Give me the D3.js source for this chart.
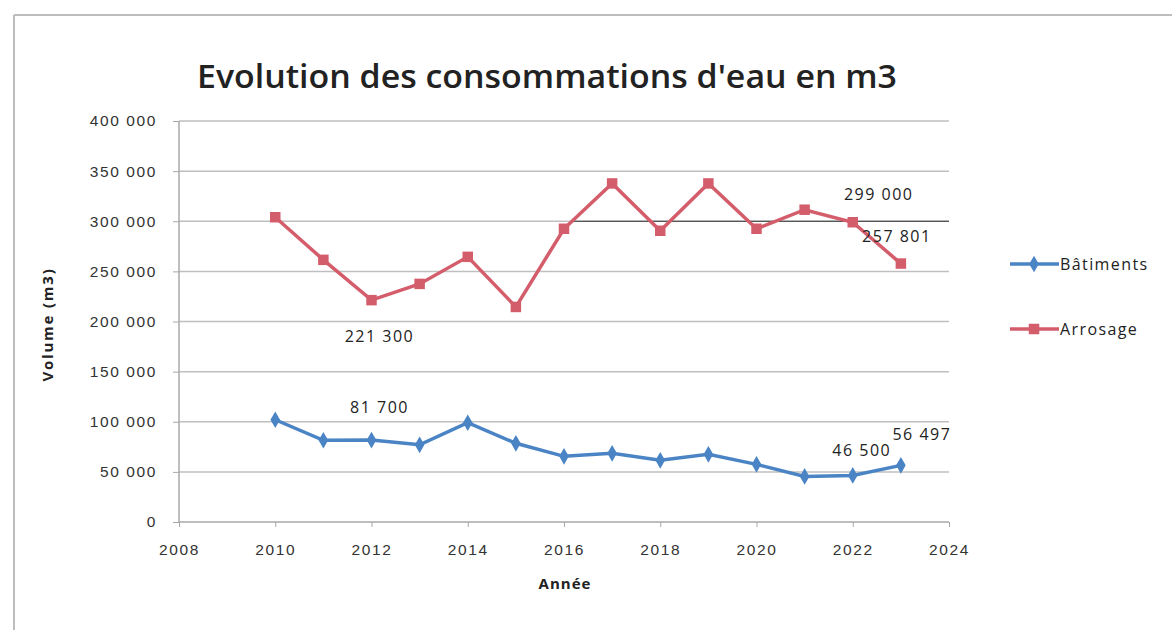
<!DOCTYPE html>
<html><head><meta charset="utf-8">
<script src="https://cdn.jsdelivr.net/npm/d3@7"></script>
<style>
html,body{margin:0;padding:0;background:#fff;}
svg{display:block;font-family:"Open Sans",sans-serif;}
</style></head>
<body>
<svg id="chart" width="1175" height="630"></svg>
<script>
const years = [2010,2011,2012,2013,2014,2015,2016,2017,2018,2019,2020,2021,2022,2023];
const batiments = [102000,81500,81700,77000,99000,78500,65500,68500,61500,67500,57500,45500,46500,56497];
const arrosage = [304000,261500,221300,237500,264500,214500,292500,337700,290500,337700,292500,311500,299000,257801];
const yTicks = [0,50000,100000,150000,200000,250000,300000,350000,400000];
const xTicks = [2008,2010,2012,2014,2016,2018,2020,2022,2024];
const seriesNames = ["Bâtiments","Arrosage"];
// data labels: [series, year index, text]
const dataLabels = [
  ["Arrosage", 2, "221 300"],
  ["Arrosage", 12, "299 000"],
  ["Arrosage", 13, "257 801"],
  ["Bâtiments", 2, "81 700"],
  ["Bâtiments", 12, "46 500"],
  ["Bâtiments", 13, "56 497"]
];
const refLine = {value:300000, from:2016.2, to:2024};

const svg = d3.select("#chart");
const blue = "#4a84c4", red = "#d45d6b";
const x = d3.scaleLinear().domain([2008,2024]).range([179,949]);
const y = d3.scaleLinear().domain([0,400000]).range([522,121]);
const fmt = v => d3.format(",")(v).replace(/,/g," ");

// frame
svg.append("line").attr("x1",14).attr("x2",1172).attr("y1",15).attr("y2",15).attr("stroke","#bdbdbd").attr("stroke-width",2);
svg.append("line").attr("x1",14).attr("x2",14).attr("y1",15).attr("y2",630).attr("stroke","#bdbdbd").attr("stroke-width",2);

// title
svg.append("text").attr("x",547).attr("y",88).attr("text-anchor","middle")
  .attr("font-size",32).attr("font-weight",600).attr("fill","#222")
  .attr("textLength",700).attr("lengthAdjust","spacingAndGlyphs")
  .text("Evolution des consommations d'eau en m3");

// grid
svg.append("g").selectAll("line").data(yTicks.filter(d=>d>0)).join("line")
  .attr("x1",x(2008)).attr("x2",x(2024)).attr("y1",d=>y(d)).attr("y2",d=>y(d))
  .attr("stroke","#bfbfbf").attr("stroke-width",1.5);

// axes
const yAxis = d3.axisLeft(y).tickValues(yTicks).tickFormat(fmt).tickSize(6).tickPadding(16);
const gy = svg.append("g").attr("transform",`translate(${x(2008)},0)`).call(yAxis);
gy.selectAll("text").attr("font-size",15.5).attr("letter-spacing",1.6).attr("fill","#333");
gy.selectAll("line,path").attr("stroke","#a8a8a8");
gy.select(".domain").attr("d",`M0,${y(0)}V${y(400000)}`).attr("stroke-width",1.5);

const xAxis = d3.axisBottom(x).tickValues(xTicks).tickFormat(d3.format("d")).tickSize(5).tickPadding(17);
const gx = svg.append("g").attr("transform",`translate(0,${y(0)})`).call(xAxis);
gx.selectAll("text").attr("font-size",15.5).attr("letter-spacing",1.6).attr("fill","#333");
gx.selectAll("line,path").attr("stroke","#a8a8a8");
gx.select(".domain").attr("d",`M${x(2008)},0H${x(2024)}`).attr("stroke-width",1.5);

// axis titles
svg.append("text").attr("transform",`translate(53,${y(200000)+3}) rotate(-90)`).attr("text-anchor","middle")
  .attr("font-size",15).attr("font-weight",700).attr("letter-spacing",1.8).attr("fill","#222").text("Volume (m3)");
svg.append("text").attr("x",565).attr("y",589).attr("text-anchor","middle")
  .attr("font-size",15).attr("font-weight",700).attr("letter-spacing",1).attr("fill","#222").text("Année");

// reference line
svg.append("line").attr("x1",x(refLine.from)).attr("x2",x(refLine.to))
  .attr("y1",y(refLine.value)).attr("y2",y(refLine.value)).attr("stroke","#333").attr("stroke-width",1.2);

const line = d3.line().x((d,i)=>x(years[i])).y(d=>y(d));
const series = [
  {name:"Bâtiments", vals:batiments, color:blue, sym:d3.symbolDiamond},
  {name:"Arrosage", vals:arrosage, color:red, sym:d3.symbolSquare}
];
series.forEach(s=>{
  svg.append("path").attr("d",line(s.vals)).attr("fill","none").attr("stroke",s.color).attr("stroke-width",3.5);
  svg.append("g").selectAll("path").data(s.vals).join("path")
    .attr("transform",(d,i)=>`translate(${x(years[i])},${y(d)})`)
    .attr("d",d3.symbol().type(s.sym).size(s.sym===d3.symbolSquare?110:80))
    .attr("fill",s.color);
});

// data labels
const labelOffsets = {
  "Arrosage|2":[8,36], "Arrosage|12":[26,-28], "Arrosage|13":[-4,-27],
  "Bâtiments|2":[8,-33], "Bâtiments|12":[9,-25], "Bâtiments|13":[21,-31]
};
dataLabels.forEach(([sn,i,t])=>{
  const s = series.find(q=>q.name===sn);
  const o = labelOffsets[sn+"|"+i];
  svg.append("text").attr("x",x(years[i])+o[0]).attr("y",y(s.vals[i])+o[1]).attr("dy","0.35em")
    .attr("text-anchor","middle").attr("font-size",16).attr("letter-spacing",1.5).attr("fill","#222").text(t);
});

// legend
const lg = svg.append("g");
series.forEach((s,k)=>{
  const ly = 264 + k*65;
  lg.append("line").attr("x1",1010).attr("x2",1059).attr("y1",ly).attr("y2",ly).attr("stroke",s.color).attr("stroke-width",3.5);
  lg.append("path").attr("transform",`translate(1034,${ly})`)
    .attr("d",d3.symbol().type(s.sym).size(s.sym===d3.symbolSquare?110:80)).attr("fill",s.color);
  lg.append("text").attr("x",1060).attr("y",ly).attr("dy","0.35em").attr("font-size",16).attr("letter-spacing",1.4).attr("fill","#222").text(s.name);
});
</script>
</body></html>
